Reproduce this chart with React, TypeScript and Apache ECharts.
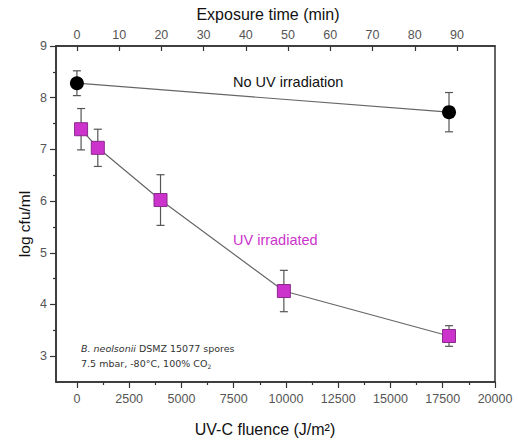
import React, { useEffect, useRef } from "react";
import * as echarts from "echarts";

const fluenceTicks = [0, 2500, 5000, 7500, 10000, 12500, 15000, 17500, 20000];
const fluenceMinor = [1250, 3750, 6250, 8750, 11250, 13750, 16250, 18750];
const timeTicks = [0, 10, 20, 30, 40, 50, 60, 70, 80, 90];
const logTicks = [3, 4, 5, 6, 7, 8, 9];
const logMinor = [3.5, 4.5, 5.5, 6.5, 7.5, 8.5];

const fluenceNoUV = [0, 17800];
const logNoUV = [8.28, 7.72];
const errNoUV = [0.24, 0.38];

const fluenceUV = [200, 1000, 4000, 9900, 17800];
const logUV = [7.39, 7.03, 6.02, 4.26, 3.39];
const errUV = [0.4, 0.36, 0.49, 0.4, 0.2];

const FONT = "Liberation Sans";
const MAGENTA = "#cc33cc";

export default function App() {
  const ref = useRef<HTMLDivElement>(null);
  useEffect(() => {
    const chart = echarts.init(ref.current!, undefined, { renderer: "svg" });
    const errData = [
      ...fluenceNoUV.map((x, i) => [x, logNoUV[i] - errNoUV[i], logNoUV[i] + errNoUV[i]]),
      ...fluenceUV.map((x, i) => [x, logUV[i] - errUV[i], logUV[i] + errUV[i]]),
    ];
    const baseAxis = {
      type: "value",
      offset: 0,
      splitLine: { show: false },
      axisLine: { show: true, onZero: false, lineStyle: { color: "#333", width: 1.5 } },
    };
    const tickStyle = { color: "#333", width: 1.2 };
    const plain = (v: number) => String(v);
    const tickFont = { color: "#555", fontSize: 12.5, fontFamily: FONT };
    chart.setOption({
      animation: false,
      backgroundColor: "#fff",
      textStyle: { fontFamily: FONT },
      grid: { left: 56, right: 23, top: 46, bottom: 60, show: true, borderColor: "#333", borderWidth: 1.5 },
      xAxis: [
        {
          ...baseAxis,
          position: "bottom",
          min: -1000,
          max: 20000,
          axisTick: { show: true, customValues: fluenceTicks, length: 6, lineStyle: tickStyle },
          axisLabel: { customValues: fluenceTicks, formatter: plain, margin: 10, ...tickFont },
        },
        {
          ...baseAxis,
          position: "top",
          min: -4.95,
          max: 99,
          axisTick: { show: true, inside: true, customValues: timeTicks, length: 5, lineStyle: tickStyle },
          axisLabel: { customValues: timeTicks, formatter: plain, margin: 5, ...tickFont },
        },
        {
          ...baseAxis,
          position: "bottom",
          min: -1000,
          max: 20000,
          axisLine: { show: false, onZero: false },
          axisTick: { show: true, customValues: fluenceMinor, length: 3, lineStyle: tickStyle },
          axisLabel: { show: true, customValues: fluenceMinor, formatter: () => "" },
        },
      ],
      yAxis: [
        {
          ...baseAxis,
          position: "left",
          min: 2.5,
          max: 9,
          axisTick: { show: true, customValues: logTicks, length: 6, lineStyle: tickStyle },
          axisLabel: { customValues: logTicks, formatter: plain, margin: 9, ...tickFont },
        },
        {
          ...baseAxis,
          position: "left",
          min: 2.5,
          max: 9,
          axisLine: { show: false, onZero: false },
          axisTick: { show: true, customValues: logMinor, length: 3, lineStyle: tickStyle },
          axisLabel: { show: true, customValues: logMinor, formatter: () => "" },
        },
      ],
      series: [
        {
          type: "custom",
          xAxisIndex: 0,
          yAxisIndex: 0,
          data: errData,
          z: 1,
          renderItem: (params: any, api: any) => {
            const x = api.value(0);
            const lo = api.coord([x, api.value(1)]);
            const hi = api.coord([x, api.value(2)]);
            const cap = 4;
            const style = { stroke: "#555", lineWidth: 1.2 };
            return {
              type: "group",
              children: [
                { type: "line", shape: { x1: lo[0], y1: lo[1], x2: hi[0], y2: hi[1] }, style },
                { type: "line", shape: { x1: lo[0] - cap, y1: lo[1], x2: lo[0] + cap, y2: lo[1] }, style },
                { type: "line", shape: { x1: hi[0] - cap, y1: hi[1], x2: hi[0] + cap, y2: hi[1] }, style },
              ],
            };
          },
        },
        {
          type: "line",
          name: "No UV irradiation",
          xAxisIndex: 0,
          yAxisIndex: 0,
          data: fluenceNoUV.map((x, i) => [x, logNoUV[i]]),
          symbol: "circle",
          symbolSize: 14,
          itemStyle: { color: "#000" },
          lineStyle: { color: "#666", width: 1.2 },
          z: 3,
        },
        {
          type: "line",
          name: "UV irradiated",
          xAxisIndex: 0,
          yAxisIndex: 0,
          data: fluenceUV.map((x, i) => [x, logUV[i]]),
          symbol: "rect",
          symbolSize: 13,
          itemStyle: { color: MAGENTA, borderColor: "#8a2a8a", borderWidth: 1 },
          lineStyle: { color: "#666", width: 1.2 },
          z: 3,
        },
      ],
      graphic: [
        {
          type: "text",
          x: 233,
          y: 82,
          style: { text: "No UV irradiation", font: `14.5px ${FONT}`, fill: "#111", verticalAlign: "middle" },
        },
        {
          type: "text",
          x: 233,
          y: 240,
          style: { text: "UV irradiated", font: `14.5px ${FONT}`, fill: MAGENTA, verticalAlign: "middle" },
        },
        {
          type: "text",
          x: 268,
          y: 14,
          style: { text: "Exposure time (min)", font: `16px ${FONT}`, fill: "#111", align: "center", verticalAlign: "middle" },
        },
        {
          type: "text",
          x: 265,
          y: 429,
          style: { text: "UV-C fluence (J/m²)", font: `16px ${FONT}`, fill: "#111", align: "center", verticalAlign: "middle" },
        },
        {
          type: "text",
          x: 24,
          y: 224,
          rotation: Math.PI / 2,
          style: { text: "log cfu/ml", font: `15.5px ${FONT}`, fill: "#111", align: "center", verticalAlign: "middle" },
        },
        {
          type: "text",
          left: 81,
          top: 343,
          style: {
            text: "{i|B. neolsonii} DSMZ 15077 spores",
            font: `9.5px DejaVu Sans`,
            fill: "#333",
            rich: { i: { fontStyle: "italic", fontSize: 9.5, fontFamily: "DejaVu Sans", fill: "#333" } },
          },
        },
        {
          type: "text",
          left: 81,
          top: 358,
          style: {
            text: "7.5 mbar, -80°C, 100% CO{s|2}",
            font: `9.5px DejaVu Sans`,
            fill: "#333",
            rich: { s: { fontSize: 6, fontFamily: "DejaVu Sans", fill: "#333", verticalAlign: "bottom", padding: [6, 0, 0, 0] } },
          },
        },
      ],
    });
    return () => chart.dispose();
  }, []);
  return <div ref={ref} style={{ width: 518, height: 442, position: "absolute", left: 0, top: 0 }} />;
}
